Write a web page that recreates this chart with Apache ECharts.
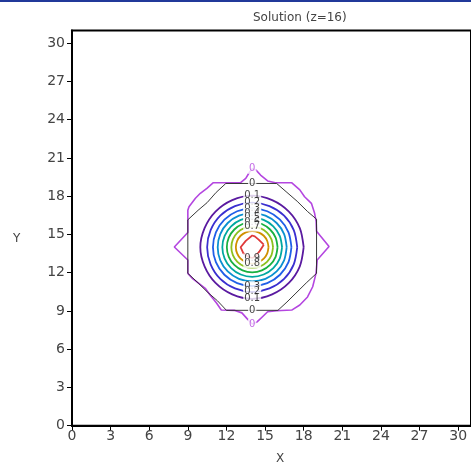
<!DOCTYPE html>
<html><head><meta charset="utf-8">
<script src="https://cdn.jsdelivr.net/npm/echarts@6/dist/echarts.min.js"></script>
<style>html,body{margin:0;padding:0;background:#fff}#c{width:471px;height:474px}</style>
</head><body><div id="c"></div>
<script>
// ---- data ----
const titleText = 'Solution (z=16)';
const xTicks = [0,3,6,9,12,15,18,21,24,27,30];
const yTicks = [0,3,6,9,12,15,18,21,24,27,30];

// outer (magenta) zero contour
const zeroOuter = [[14.0,20.15],[14.3,20.05],[14.65,19.66],[15.2,19.2],[15.8,19.06],[17.06,19.06],[17.7,18.5],[18.07,17.96],[18.6,17.44],[18.85,16.66],[18.97,16.0],[19.0,15.25],[19.97,14.05],[19.05,13.0],[18.96,11.95],[18.7,10.9],[18.3,10.1],[17.7,9.47],[17.07,9.07],[15.9,9.02],[15.2,8.94],[14.8,8.55],[14.4,8.16],[14.0,7.98],[13.6,8.4],[13.2,8.85],[12.6,9.05],[11.6,9.07],[11.24,9.6],[10.73,10.25],[10.35,10.78],[9.85,11.17],[9.34,11.56],[9.0,11.95],[9.0,13.0],[7.95,14.02],[9.0,15.15],[9.0,16.9],[9.09,17.18],[9.59,17.84],[9.97,18.23],[10.48,18.62],[10.98,19.06],[13.1,19.06],[13.5,19.4],[13.8,19.9],[14.0,20.15]];
// inner (black) zero contour
const zeroInner = [[11.95,19.0],[15.9,19.0],[16.7,18.3],[17.5,17.6],[18.3,16.8],[19.0,16.2],[19.0,11.95],[18.2,11.2],[17.4,10.4],[16.7,9.7],[16.0,9.05],[12.0,9.05],[11.3,9.8],[10.5,10.5],[9.8,11.2],[9.0,11.95],[9.0,16.15],[9.8,16.9],[10.5,17.5],[11.2,18.3],[11.95,19.0]];

const levelNames = ['0.1','0.2','0.3','0.4','0.5','0.6','0.7','0.8','0.9'];
const ring01 = [[18.0,14.0],[17.7,15.5],[16.85,16.8],[15.55,17.7],[14.0,18.05],[12.45,17.7],[11.15,16.8],[10.3,15.5],[9.97,14.0],[10.3,12.5],[11.15,11.2],[12.45,10.3],[14.0,9.95],[15.55,10.3],[16.85,11.2],[17.7,12.5],[18.0,14.0]];
const ring02 = [[17.5,14],[17.23,15.34],[16.48,16.48],[15.34,17.23],[14,17.5],[12.66,17.23],[11.52,16.48],[10.77,15.34],[10.5,14],[10.77,12.66],[11.52,11.52],[12.66,10.77],[14,10.5],[15.34,10.77],[16.48,11.52],[17.23,12.66],[17.5,14]];
const ring03 = [[17.05,14],[16.82,15.17],[16.16,16.16],[15.17,16.82],[14,17.05],[12.83,16.82],[11.84,16.16],[11.18,15.17],[10.95,14],[11.18,12.83],[11.84,11.84],[12.83,11.18],[14,10.95],[15.17,11.18],[16.16,11.84],[16.82,12.83],[17.05,14]];
const ring04 = [[16.68,14],[16.48,15.03],[15.9,15.9],[15.03,16.48],[14,16.68],[12.97,16.48],[12.1,15.9],[11.52,15.03],[11.32,14],[11.52,12.97],[12.1,12.1],[12.97,11.52],[14,11.32],[15.03,11.52],[15.9,12.1],[16.48,12.97],[16.68,14]];
const ring05 = [[16.32,14],[16.14,14.89],[15.64,15.64],[14.89,16.14],[14,16.32],[13.11,16.14],[12.36,15.64],[11.86,14.89],[11.68,14],[11.86,13.11],[12.36,12.36],[13.11,11.86],[14,11.68],[14.89,11.86],[15.64,12.36],[16.14,13.11],[16.32,14]];
const ring06 = [[15.97,14],[15.82,14.75],[15.39,15.39],[14.75,15.82],[14,15.97],[13.25,15.82],[12.61,15.39],[12.18,14.75],[12.03,14],[12.18,13.25],[12.61,12.61],[13.25,12.18],[14,12.03],[14.75,12.18],[15.39,12.61],[15.82,13.25],[15.97,14]];
const ring07 = [[15.62,14],[15.5,14.62],[15.15,15.15],[14.62,15.5],[14,15.62],[13.38,15.5],[12.85,15.15],[12.5,14.62],[12.38,14],[12.5,13.38],[12.85,12.85],[13.38,12.5],[14,12.38],[14.62,12.5],[15.15,12.85],[15.5,13.38],[15.62,14]];
const ring08 = [[15.27,14],[15.17,14.49],[14.9,14.9],[14.49,15.17],[14,15.27],[13.51,15.17],[13.1,14.9],[12.83,14.49],[12.73,14],[12.83,13.51],[13.1,13.1],[13.51,12.83],[14,12.73],[14.49,12.83],[14.9,13.1],[15.17,13.51],[15.27,14]];
const ring09 = [[14.9,14.2],[14.5,14.6],[14.2,14.85],[14.0,14.92],[13.5,14.5],[13.1,14.0],[13.3,13.55],[13.6,13.3],[14.0,13.12],[14.3,13.35],[14.55,13.65],[14.9,14.2]];
const rings = [ring01,ring02,ring03,ring04,ring05,ring06,ring07,ring08,ring09];
// which ring labels appear above / below the centre
const topLabelLevels = ['0.1','0.2','0.3','0.4','0.5','0.6','0.7'];
const bottomLabelLevels = ['0.9','0.8','0.3','0.2','0.1'];

// ---- styling ----
const ringColors = ['#5a1aa0','#3a2fd0','#1f5fe8','#0a90d0','#00a8a0','#19b040','#8cc01e','#d09000','#e03a3a'];
const magenta = '#b446e0';

const series = [];
series.push({type:'line', data:zeroOuter, showSymbol:false, symbol:'none', lineStyle:{color:magenta,width:1.6}, z:2, animation:false});
series.push({type:'line', data:zeroInner, showSymbol:false, symbol:'none', lineStyle:{color:'#222',width:0.9}, z:2, animation:false});
rings.forEach((r,i)=>{
  series.push({type:'line', data:r, showSymbol:false, symbol:'none', smooth:(i<8?0.3:0), lineStyle:{color:ringColors[i],width:1.8}, z:2, animation:false});
});

function topPoint(arr){let b=arr[0];arr.forEach(p=>{if(p[1]>b[1])b=p;});return b;}
function botPoint(arr){let b=arr[0];arr.forEach(p=>{if(p[1]<b[1])b=p;});return b;}
const labelData = [];
topLabelLevels.forEach(n=>{const r=rings[levelNames.indexOf(n)];labelData.push({value:topPoint(r),name:n,label:{color:'#111'}});});
bottomLabelLevels.forEach(n=>{const r=rings[levelNames.indexOf(n)];labelData.push({value:botPoint(r),name:n,label:{color:'#111'}});});
labelData.push({value:[14,topPoint(zeroInner)[1]],name:'0',label:{color:'#111'}});
labelData.push({value:[14,botPoint(zeroInner)[1]],name:'0',label:{color:'#111'}});
labelData.push({value:topPoint(zeroOuter),name:'0',label:{color:magenta}});
labelData.push({value:botPoint(zeroOuter),name:'0',label:{color:magenta}});

series.push({type:'scatter', data:labelData, symbolSize:0, z:5, animation:false,
  label:{show:true, position:'inside', formatter:p=>p.name, fontSize:10, fontFamily:'DejaVu Sans', backgroundColor:'#fff', padding:[0,1], lineHeight:10}});

const chart = echarts.init(document.getElementById('c'), null, {renderer:'canvas'});
const axisFont = {color:'#444', fontSize:14, fontFamily:'DejaVu Sans'};
chart.setOption({
  animation:false,
  backgroundColor:'#fff',
  title:{text:titleText, left:248, top:7, textStyle:{fontSize:12, fontWeight:'normal', color:'#444', fontFamily:'DejaVu Sans'}},
  grid:{left:72, top:30.5, right:-9.3, bottom:48.3, show:true, borderColor:'#000', borderWidth:2, backgroundColor:'#fff'},
  xAxis:{type:'value', min:0, max:31, interval:3,
    axisLine:{show:true, onZero:false, lineStyle:{color:'#000', width:2}},
    axisTick:{show:true, length:5, customValues:xTicks, lineStyle:{color:'#000'}},
    axisLabel:Object.assign({customValues:xTicks, margin:4}, axisFont),
    splitLine:{show:false}},
  yAxis:{type:'value', min:0, max:31, interval:3,
    axisLine:{show:true, onZero:false, lineStyle:{color:'#000', width:2}},
    axisTick:{show:true, length:5, customValues:yTicks, lineStyle:{color:'#000'}},
    axisLabel:Object.assign({customValues:yTicks, margin:7}, axisFont),
    splitLine:{show:false}},
  graphic:[
    {type:'rect', left:0, top:0, shape:{width:471, height:2}, style:{fill:'#21399a'}},
    {type:'text', left:276, top:453, style:{text:'X', fontSize:12, fill:'#444', fontFamily:'DejaVu Sans'}},
    {type:'text', left:13, top:233, style:{text:'Y', fontSize:12, fill:'#444', fontFamily:'DejaVu Sans'}}
  ],
  series:series
});
</script>
</body></html>
